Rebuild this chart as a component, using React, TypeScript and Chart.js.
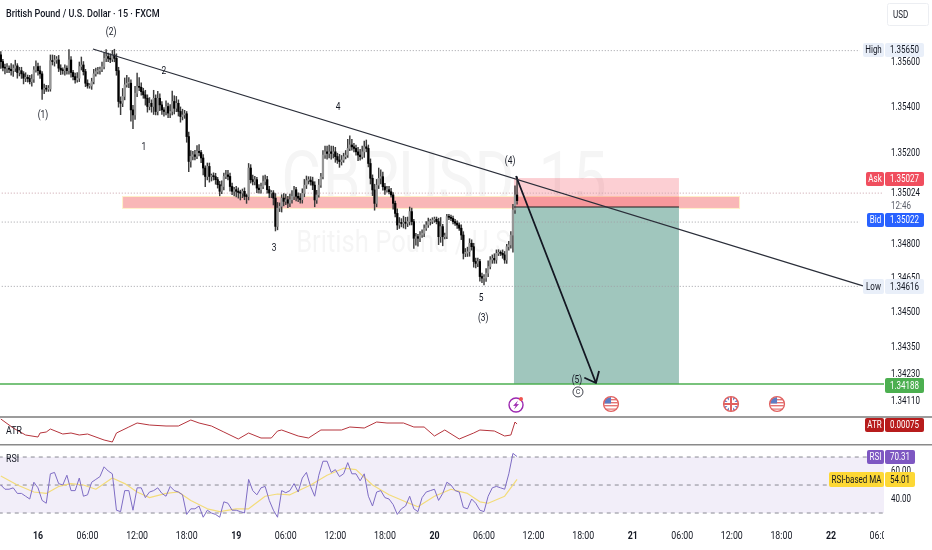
import React, { useEffect, useRef } from "react";
import { Chart, registerables } from "chart.js";

Chart.register(...registerables);

const closes = [
  1.35602, 1.35576, 1.35573, 1.35573, 1.35568, 1.35562, 1.35573, 1.35583, 1.35554, 1.35562,
  1.35548, 1.35529, 1.35533, 1.35527, 1.35514, 1.35525, 1.35565, 1.3558, 1.35562, 1.35548,
  1.35481, 1.35483, 1.35481, 1.35482, 1.35606, 1.35602, 1.35609, 1.35609, 1.35573, 1.35565,
  1.35562, 1.35573, 1.35562, 1.35609, 1.35554, 1.35536, 1.35522, 1.35529, 1.3558, 1.35587,
  1.35558, 1.35507, 1.35495, 1.35495, 1.35514, 1.35548, 1.35558, 1.35562, 1.35568, 1.3558,
  1.35616, 1.35624, 1.35616, 1.35612, 1.35631, 1.35616, 1.35562, 1.35427, 1.35419, 1.35449,
  1.355, 1.35507, 1.35507, 1.3539, 1.35368, 1.35463, 1.35492, 1.35489, 1.3547, 1.35456,
  1.35441, 1.35405, 1.35419, 1.35405, 1.35441, 1.35383, 1.35441, 1.35412, 1.3539, 1.35383,
  1.35405, 1.35376, 1.35383, 1.35427, 1.35397, 1.35419, 1.35383, 1.35361, 1.35368, 1.35373,
  1.35273, 1.35164, 1.35186, 1.35193, 1.35186, 1.35208, 1.35203, 1.35179, 1.35135, 1.35098,
  1.35142, 1.35098, 1.35099, 1.35097, 1.35084, 1.35062, 1.35033, 1.35054, 1.35098, 1.35105,
  1.35098, 1.35054, 1.35033, 1.3504, 1.35033, 1.35028, 1.35025, 1.35033, 1.35011, 1.3501,
  1.35135, 1.35084, 1.35076, 1.35084, 1.35047, 1.3504, 1.35054, 1.35076, 1.35084, 1.3504,
  1.35025, 1.35026, 1.35003, 1.34879, 1.34959, 1.34967, 1.35003, 1.34989, 1.34996, 1.34981,
  1.34996, 1.35011, 1.3504, 1.35011, 1.35003, 1.34996, 1.35024, 1.3506, 1.3508, 1.35082,
  1.35075, 1.3506, 1.34995, 1.35017, 1.3506, 1.35097, 1.35192, 1.35206, 1.35199, 1.35206,
  1.35199, 1.35206, 1.35185, 1.3517, 1.35163, 1.3517, 1.35185, 1.35192, 1.35221, 1.35236,
  1.35228, 1.35221, 1.35206, 1.35192, 1.35185, 1.35206, 1.35228, 1.35221, 1.35155, 1.3509,
  1.35039, 1.3498, 1.3506, 1.3509, 1.35097, 1.35053, 1.35039, 1.3504, 1.35031, 1.35017,
  1.3498, 1.34936, 1.34885, 1.34893, 1.34892, 1.34894, 1.34893, 1.349, 1.34944, 1.349,
  1.34827, 1.34834, 1.34827, 1.34841, 1.34849, 1.34871, 1.34885, 1.349, 1.34901, 1.34907,
  1.3491, 1.349, 1.34834, 1.34878, 1.34834, 1.34835, 1.34922, 1.34919, 1.34914, 1.349,
  1.34893, 1.34885, 1.34871, 1.34841, 1.34761, 1.34762, 1.34768, 1.34805, 1.3479, 1.34725,
  1.34717, 1.34725, 1.34659, 1.34652, 1.34653, 1.34674, 1.34703, 1.34732, 1.34739, 1.34732,
  1.34761, 1.34762, 1.34761, 1.34754, 1.34732, 1.3479, 1.34798, 1.34841, 1.34951, 1.35017,
  1.34992,
];
const firstOpen = 1.35631;

// wick lengths, in 0.00001 of a dollar, read bar by bar
const upperWick = [
  15, 10, 15, 20, 10, 25, 15, 25, 10, 15, 15, 10, 20, 10, 15, 20, 15, 25, 15, 20,
  10, 20, 15, 15, 25, 25, 20, 15, 20, 15, 10, 15, 10, 45, 15, 10, 15, 25, 20, 35,
  15, 10, 15, 10, 15, 20, 15, 15, 10, 20, 25, 30, 15, 20, 20, 25, 20, 15, 20, 35,
  30, 35, 25, 15, 20, 30, 60, 40, 20, 15, 20, 15, 25, 15, 35, 15, 30, 20, 15, 10,
  25, 15, 30, 45, 25, 30, 15, 20, 25, 15, 10, 20, 25, 15, 20, 25, 30, 10, 15, 10,
  15, 15, 10, 15, 15, 10, 15, 25, 15, 20, 20, 15, 15, 10, 15, 15, 10, 10, 15, 10,
  20, 15, 20, 15, 10, 15, 15, 25, 20, 15, 15, 10, 10, 20, 25, 15, 15, 20, 25, 15,
  25, 25, 15, 10, 15, 20, 20, 25, 20, 15, 15, 20, 15, 20, 25, 15, 20, 25, 25, 30,
  25, 25, 20, 15, 25, 20, 15, 20, 40, 40, 25, 15, 15, 20, 25, 25, 25, 30, 15, 20,
  15, 25, 25, 45, 30, 20, 15, 15, 15, 15, 10, 10, 20, 25, 20, 30, 25, 20, 20, 15,
  10, 15, 10, 15, 15, 15, 15, 15, 10, 10, 10, 10, 15, 40, 10, 15, 10, 10, 10, 10,
  10, 10, 10, 15, 15, 20, 20, 20, 15, 15, 15, 15, 10, 15, 15, 20, 25, 15, 15, 20,
  15, 15, 10, 15, 15, 10, 15, 15, 25, 40, 79,
];
const lowerWick = [
  30, 15, 25, 20, 15, 20, 25, 15, 25, 15, 20, 25, 15, 15, 10, 20, 15, 10, 20, 20,
  45, 20, 10, 10, 10, 15, 20, 15, 15, 20, 15, 20, 15, 15, 20, 15, 15, 10, 15, 15,
  15, 15, 10, 10, 15, 10, 10, 10, 15, 10, 10, 15, 15, 15, 10, 15, 20, 25, 50, 15,
  15, 10, 20, 50, 60, 20, 15, 15, 15, 15, 30, 25, 15, 25, 35, 15, 15, 25, 20, 20,
  15, 20, 20, 15, 25, 15, 20, 25, 15, 15, 25, 45, 25, 15, 15, 10, 15, 20, 30, 45,
  15, 25, 20, 15, 20, 15, 20, 10, 15, 10, 15, 20, 15, 20, 25, 25, 30, 20, 15, 30,
  15, 15, 15, 15, 20, 15, 15, 10, 15, 15, 20, 20, 30, 20, 15, 15, 25, 20, 15, 20,
  15, 15, 15, 20, 15, 15, 15, 15, 15, 15, 15, 20, 30, 15, 10, 10, 10, 15, 25, 20,
  25, 20, 25, 15, 25, 15, 10, 10, 10, 10, 15, 15, 15, 25, 15, 10, 25, 15, 15, 25,
  25, 30, 15, 15, 25, 15, 20, 10, 10, 10, 25, 15, 20, 15, 15, 20, 25, 15, 15, 15,
  45, 30, 35, 15, 10, 15, 10, 10, 15, 10, 10, 10, 35, 25, 40, 10, 10, 10, 10, 10,
  10, 15, 10, 20, 25, 15, 15, 20, 15, 25, 20, 15, 20, 20, 30, 15, 15, 10, 15, 15,
  15, 10, 10, 15, 15, 15, 15, 15, 75, 15, 15,
];

// RSI, one reading every second bar
const rsiValues = [
  50, 47, 47, 48, 44, 44, 42, 40, 52, 48,
  39, 37, 58, 59, 51, 50, 57, 46, 46, 55,
  42, 43, 52, 54, 56, 63, 60, 58, 32, 31,
  46, 46, 32, 48, 48, 41, 45, 46, 48, 44,
  42, 49, 46, 45, 43, 29, 33, 33, 35, 27,
  32, 30, 29, 27, 38, 37, 32, 32, 31, 30,
  54, 46, 43, 48, 49, 39, 32, 27,
  46, 44.5, 46, 51, 45, 55, 59, 49, 42, 57,
  67, 67, 59, 61, 56, 58, 66, 58, 58, 53,
  58, 42, 35, 45, 46, 41, 40, 36, 29, 33,
  35, 42, 33, 31, 41, 45, 46, 47, 39, 44,
  52, 50, 46, 45, 34, 33, 40, 37, 32, 31,
  42, 48, 49, 48, 47, 58, 72.6, 70.31,
];
const rsiMaBars = [0, 8, 16, 22, 28, 34, 40, 46, 54, 60, 66, 72, 80, 86, 92, 100, 106, 114, 120, 128, 134, 140, 150, 158, 166, 172, 180, 188, 196, 202, 210, 218, 226, 232, 236, 244, 250];
const rsiMaValues = [56.4, 50, 45, 44, 49, 51, 50, 47, 55, 51, 45, 41, 44, 45, 39, 33, 31, 33, 33, 42, 43.6, 43, 50, 57, 62, 61, 50, 43, 38, 34.5, 42, 47, 44, 38, 37, 42, 54.01];

const atrBars = [0, 6, 12, 18, 19, 22, 24, 30, 34, 38, 42, 50, 54, 56, 62, 66, 72, 80, 86, 92, 96, 102, 108, 115, 120, 126, 131, 134, 136, 144, 149, 155, 165, 169, 176, 182, 187, 195, 200, 205, 210, 215, 222, 229, 232, 239, 244, 247, 249, 250];
const atrValues = [0.0008, 0.00071, 0.00064, 0.00062, 0.00066, 0.00067, 0.0007, 0.00065, 0.00066, 0.00064, 0.00065, 0.00059, 0.00057, 0.00066, 0.00072, 0.00076, 0.00074, 0.00073, 0.00073, 0.00079, 0.00076, 0.00073, 0.00067, 0.0006, 0.00066, 0.00061, 0.00061, 0.00068, 0.00069, 0.00063, 0.00061, 0.00069, 0.00069, 0.00072, 0.00071, 0.00077, 0.00076, 0.00076, 0.00072, 0.00072, 0.00063, 0.00069, 0.0006, 0.00066, 0.00069, 0.00068, 0.00063, 0.00064, 0.00077, 0.00075];

const timeTickBars = [18, 42, 66, 90, 114, 138, 162, 186, 210, 234, 258, 282, 306, 330, 354, 378, 402, 426];
const timeTickLabels = ["16", "06:00", "12:00", "18:00", "19", "06:00", "12:00", "18:00", "20", "06:00", "12:00", "18:00", "21", "06:00", "12:00", "18:00", "22", "06:00"];
const dayLabels = ["16", "19", "20", "21", "22"];

const priceTicks = [1.356, 1.354, 1.352, 1.35024, 1.348, 1.3465, 1.345, 1.3435, 1.3423, 1.3411];
const rsiTicks = [60, 40];
const rsiLevels = [70, 50, 30];

const highLevel = 1.3565;
const lowLevel = 1.34616;
const askLevel = 1.35025;
const bidLevel = 1.34898;
const targetLevel = 1.34188;

const trendBars = [44.6, 417.5];
const trendPrices = [1.35657, 1.34618];
const arrowBars = [249.5, 288.2, 282.9, 288.2, 289.7];
const arrowPrices = [1.351, 1.34192, 1.34214, 1.34192, 1.34245];

const zoneBars = [59.2, 357.5];
const zonePrices = [1.35008, 1.3496];
const positionBars = [248.5, 328.4];
const stopPrice = 1.35091;
const entryPrice = 1.34964;
const takeProfitPrice = 1.34188;

const waveTexts = ["(2)", "(1)", "2", "1", "4", "3", "5", "(3)", "(4)", "(5)"];
const waveBars = [53.4, 20.4, 79, 69.3, 163.3, 132.3, 232.6, 233.6, 246.6, 279];
const wavePrices = [1.35732, 1.35368, 1.35561, 1.35227, 1.35403, 1.34784, 1.34565, 1.34477, 1.35166, 1.34205];
const circledBar = 279.5;
const circledPrice = 1.34153;

const usEventBars = [295.5, 375.9];
const ukEventBars = [353.6];
const flashEventBar = 249.5;

const FONT = "Roboto, sans-serif";
const TEXT_CONDENSE = 0.8;
const PLOT_RIGHT = 884;

function badge(ctx: CanvasRenderingContext2D, x: number, y: number, w: number, h: number, bg: string, fg: string, text: string, r = 2) {
  ctx.fillStyle = bg;
  ctx.beginPath();
  ctx.roundRect(x, y, w, h, r);
  ctx.fill();
  ctx.fillStyle = fg;
  ctx.textAlign = "center";
  ctx.textBaseline = "middle";
  ctx.font = `10px ${FONT}`;
  ctx.fillText(text, x + w / 2, y + h / 2 + 0.5);
}

function usFlag(ctx: CanvasRenderingContext2D, x: number, y: number) {
  ctx.save();
  ctx.beginPath();
  ctx.arc(x, y, 7, 0, Math.PI * 2);
  ctx.clip();
  ctx.fillStyle = "#ffffff";
  ctx.fillRect(x - 7, y - 7, 14, 14);
  ctx.fillStyle = "#e57373";
  ctx.fillRect(x - 7, y - 5, 14, 1.4);
  ctx.fillRect(x - 7, y - 2, 14, 1.4);
  ctx.fillRect(x - 7, y + 1, 14, 1.4);
  ctx.fillRect(x - 7, y + 4.5, 14, 1.2);
  ctx.fillStyle = "#5c7cc4";
  ctx.fillRect(x - 7, y - 7, 7, 6.5);
  ctx.restore();
  ctx.strokeStyle = "#e0605f";
  ctx.lineWidth = 1.4;
  ctx.beginPath();
  ctx.arc(x, y, 7.4, 0, Math.PI * 2);
  ctx.stroke();
}

function ukFlag(ctx: CanvasRenderingContext2D, x: number, y: number) {
  ctx.save();
  ctx.beginPath();
  ctx.arc(x, y, 7, 0, Math.PI * 2);
  ctx.clip();
  ctx.fillStyle = "#6f86c8";
  ctx.fillRect(x - 7, y - 7, 14, 14);
  ctx.strokeStyle = "#ffffff";
  ctx.lineWidth = 2;
  ctx.beginPath();
  ctx.moveTo(x - 7, y - 7);
  ctx.lineTo(x + 7, y + 7);
  ctx.moveTo(x + 7, y - 7);
  ctx.lineTo(x - 7, y + 7);
  ctx.stroke();
  ctx.strokeStyle = "#ffffff";
  ctx.lineWidth = 4;
  ctx.beginPath();
  ctx.moveTo(x, y - 7);
  ctx.lineTo(x, y + 7);
  ctx.moveTo(x - 7, y);
  ctx.lineTo(x + 7, y);
  ctx.stroke();
  ctx.strokeStyle = "#e0605f";
  ctx.lineWidth = 2;
  ctx.stroke();
  ctx.restore();
  ctx.strokeStyle = "#e0605f";
  ctx.lineWidth = 1.4;
  ctx.beginPath();
  ctx.arc(x, y, 7.4, 0, Math.PI * 2);
  ctx.stroke();
}

function flashIcon(ctx: CanvasRenderingContext2D, x: number, y: number) {
  ctx.strokeStyle = "#9c27b0";
  ctx.lineWidth = 1.4;
  ctx.beginPath();
  ctx.arc(x, y, 7, 0, Math.PI * 2);
  ctx.stroke();
  ctx.fillStyle = "#9c27b0";
  ctx.beginPath();
  ctx.moveTo(x + 2, y - 4.5);
  ctx.lineTo(x - 3, y + 1);
  ctx.lineTo(x - 0.3, y + 0.8);
  ctx.lineTo(x - 2, y + 4.5);
  ctx.lineTo(x + 3, y - 1);
  ctx.lineTo(x + 0.3, y - 0.8);
  ctx.closePath();
  ctx.fill();
  ctx.fillStyle = "#ef5350";
  ctx.beginPath();
  ctx.arc(x + 5, y - 6, 2, 0, Math.PI * 2);
  ctx.fill();
}

const underlay = {
  id: "underlay",
  beforeDraw(chart: any) {
    // The reference's lettering is horizontally condensed: squeeze every text run, the scales' too.
    const ctx = chart.ctx;
    if (!ctx.__condensed) {
      const original = ctx.fillText.bind(ctx);
      ctx.fillText = (t: string, x: number, y: number, m?: number) =>
        original(t, x, y, m ?? ctx.measureText(t).width * TEXT_CONDENSE);
      ctx.__condensed = true;
    }
  },
  beforeDatasetsDraw(chart: any) {
    const { ctx, scales } = chart;
    const x = scales.x;
    const y = scales.yMain;
    const r = scales.yRsi;
    ctx.save();
    // watermark
    ctx.fillStyle = "rgba(19,23,34,0.045)";
    ctx.textAlign = "center";
    ctx.textBaseline = "middle";
    ctx.font = `76px ${FONT}`;
    ctx.fillText("GBPUSD, 15", 444, 186);
    ctx.font = `32px ${FONT}`;
    ctx.fillText("British Pound / U.S. Dollar", 443, 244);

    // RSI band
    ctx.fillStyle = "rgba(126,87,194,0.1)";
    ctx.fillRect(0, r.getPixelForValue(70), PLOT_RIGHT, r.getPixelForValue(30) - r.getPixelForValue(70));

    // supply zone
    const zx0 = x.getPixelForValue(zoneBars[0]);
    const zx1 = x.getPixelForValue(zoneBars[1]);
    const zy0 = y.getPixelForValue(zonePrices[0]);
    const zy1 = y.getPixelForValue(zonePrices[1]);
    ctx.fillStyle = "#fff0c8";
    ctx.fillRect(zx0 - 1, zy0 - 1, zx1 - zx0 + 2, zy1 - zy0 + 2);
    ctx.fillStyle = "#f9b7b7";
    ctx.fillRect(zx0, zy0, zx1 - zx0, zy1 - zy0);

    // short position
    const px0 = x.getPixelForValue(positionBars[0]);
    const px1 = x.getPixelForValue(positionBars[1]);
    const stop = y.getPixelForValue(stopPrice);
    const entry = y.getPixelForValue(entryPrice);
    const take = y.getPixelForValue(takeProfitPrice);
    ctx.fillStyle = "rgba(242,54,69,0.24)";
    ctx.fillRect(px0, stop, px1 - px0, entry - stop);
    ctx.fillStyle = "#a0c6bd";
    ctx.fillRect(px0, entry, px1 - px0, take - entry);
    ctx.restore();
  },
  afterDraw(chart: any) {
    const { ctx, scales } = chart;
    const x = scales.x;
    const y = scales.yMain;
    ctx.save();

    // pane rules
    ctx.fillStyle = "#3a3a3a";
    ctx.fillRect(0, 416.5, 932, 1);
    ctx.fillStyle = "#8a8a8a";
    ctx.fillRect(0, 444, 932, 1.5);

    // clip the last time label at the price scale
    ctx.fillStyle = "#ffffff";
    ctx.fillRect(PLOT_RIGHT, 522, 48, 28);

    // title
    ctx.fillStyle = "#131722";
    ctx.textAlign = "left";
    ctx.textBaseline = "middle";
    ctx.font = `500 11.3px ${FONT}`;
    ctx.fillText("British Pound / U.S. Dollar · 15 · FXCM", 6, 14);

    // wave labels
    ctx.font = `10.5px ${FONT}`;
    ctx.textAlign = "center";
    ctx.fillStyle = "#131722";
    waveTexts.forEach((t, i) => {
      ctx.fillText(t, x.getPixelForValue(waveBars[i]), y.getPixelForValue(wavePrices[i]));
    });
    const cx = x.getPixelForValue(circledBar);
    const cy = y.getPixelForValue(circledPrice);
    ctx.strokeStyle = "#131722";
    ctx.lineWidth = 0.8;
    ctx.beginPath();
    ctx.arc(cx, cy, 5, 0, Math.PI * 2);
    ctx.stroke();
    ctx.font = `8px ${FONT}`;
    ctx.fillText("C", cx, cy + 0.5);

    // event markers
    usEventBars.forEach((b) => usFlag(ctx, x.getPixelForValue(b), 404));
    ukEventBars.forEach((b) => ukFlag(ctx, x.getPixelForValue(b), 404));
    flashIcon(ctx, x.getPixelForValue(flashEventBar), 405);

    // price scale badges
    badge(ctx, 863, 43, 21, 14, "#e9eff9", "#131722", "High");
    badge(ctx, 885, 43, 39, 14, "#e9eff9", "#131722", "1.35650");
    badge(ctx, 866, 172, 18, 14, "#f04e5e", "#ffffff", "Ask");
    badge(ctx, 885, 172, 39, 14, "#f04e5e", "#ffffff", "1.35027");
    ctx.fillStyle = "#5d606b";
    ctx.textAlign = "left";
    ctx.textBaseline = "middle";
    ctx.font = `10px ${FONT}`;
    ctx.fillText("12:46", 891, 206);
    badge(ctx, 867, 213, 17, 14, "#2962ff", "#ffffff", "Bid");
    badge(ctx, 885, 213, 39, 14, "#2962ff", "#ffffff", "1.35022");
    badge(ctx, 863, 279, 21, 15, "#e9eff9", "#131722", "Low");
    badge(ctx, 885, 279, 39, 15, "#e9eff9", "#131722", "1.34616");
    badge(ctx, 885, 378, 39, 15, "#4caf50", "#ffffff", "1.34188");
    badge(ctx, 865, 418, 19, 14, "#b71c1c", "#ffffff", "ATR");
    badge(ctx, 885, 418, 39, 14, "#b71c1c", "#ffffff", "0.00075");
    badge(ctx, 867, 450, 17, 14, "#7e57c2", "#ffffff", "RSI");
    badge(ctx, 885, 450, 30, 14, "#7e57c2", "#ffffff", "70.31");
    badge(ctx, 829, 472, 55, 15, "#fdd835", "#131722", "RSI-based MA");
    badge(ctx, 885, 472, 30, 15, "#fdd835", "#131722", "54.01");

    // currency box
    ctx.strokeStyle = "#eceef2";
    ctx.lineWidth = 1;
    ctx.beginPath();
    ctx.roundRect(887.5, 3.5, 41, 22, 2);
    ctx.stroke();
    ctx.fillStyle = "#131722";
    ctx.textAlign = "left";
    ctx.font = `10px ${FONT}`;
    ctx.fillText("USD", 893, 15);

    // pane captions
    ctx.font = `11px ${FONT}`;
    ctx.fillText("ATR", 6, 431);
    ctx.fillText("RSI", 6, 459);
    ctx.restore();
  },
};

const pts = (bars: number[], vals: number[]) => bars.map((b, i) => ({ x: b, y: vals[i] }));
const flat = (x0: number, x1: number, v: number) => [
  { x: x0, y: v },
  { x: x1, y: v },
];
const noPad = (s: any) => {
  s.paddingTop = 0;
  s.paddingBottom = 0;
  s.paddingLeft = 0;
  s.paddingRight = 0;
};

export default function App() {
  const ref = useRef<HTMLCanvasElement>(null);
  useEffect(() => {
    if (!ref.current) return;
    const opens = closes.map((_, i) => (i === 0 ? firstOpen : closes[i - 1]));
    const bodies = closes.map((c, i) => ({ x: i, y: [opens[i], c] }));
    const bodyColors = closes.map((c, i) => (c >= opens[i] ? "#969696" : "#000000"));
    const wicks = closes.map((c, i) => ({
      x: i,
      y: [Math.min(opens[i], c) - lowerWick[i] * 0.00001, Math.max(opens[i], c) + upperWick[i] * 0.00001],
    }));
    const lineBase = { type: "line", pointRadius: 0, borderJoinStyle: "round", tension: 0, fill: false };
    const dotted = { ...lineBase, yAxisID: "yMain", borderColor: "#a0a0a6", borderWidth: 1, borderDash: [1, 2] };
    const dashed = { ...lineBase, yAxisID: "yRsi", borderColor: "#8a8a94", borderWidth: 1, borderDash: [4, 4] };
    const chart = new Chart(ref.current, {
      type: "bar",
      data: {
        datasets: [
          { ...dotted, order: 5, data: flat(-1, 416, highLevel) },
          { ...dotted, order: 5, data: flat(-1, 427, askLevel), borderColor: "#c8a0a8" },
          { ...dotted, order: 5, data: flat(-1, 416, bidLevel) },
          { ...dotted, order: 5, data: flat(-1, 416, lowLevel) },
          { type: "bar", order: 4, yAxisID: "yMain", data: wicks, backgroundColor: "#3c3c3c", barThickness: 0.8, grouped: false },
          { type: "bar", order: 3, yAxisID: "yMain", data: bodies, backgroundColor: bodyColors, barThickness: 1.6, grouped: false, minBarLength: 1 },
          { ...lineBase, order: 2, yAxisID: "yMain", data: flat(-1, 428, targetLevel), borderColor: "#4caf50", borderWidth: 1.5 },
          { ...lineBase, order: 2, yAxisID: "yMain", data: flat(positionBars[0], positionBars[1], entryPrice), borderColor: "#1a1a1a", borderWidth: 1.2 },
          { ...lineBase, order: 1, yAxisID: "yMain", data: pts(trendBars, trendPrices), borderColor: "#2a2e39", borderWidth: 1.2 },
          { ...lineBase, order: 1, yAxisID: "yMain", data: pts(arrowBars, arrowPrices), borderColor: "#131722", borderWidth: 1.8 },
          { ...lineBase, order: 1, yAxisID: "yAtr", data: pts(atrBars, atrValues), borderColor: "#b5343c", borderWidth: 1 },
          { ...dashed, order: 3, data: flat(-1, 428, rsiLevels[0]) },
          { ...dashed, order: 3, data: flat(-1, 428, rsiLevels[1]) },
          { ...dashed, order: 3, data: flat(-1, 428, rsiLevels[2]) },
          { ...lineBase, order: 2, yAxisID: "yRsi", data: pts(rsiMaBars, rsiMaValues), borderColor: "#f3dc7a", borderWidth: 1.2 },
          { ...lineBase, order: 1, yAxisID: "yRsi", data: rsiValues.map((v, i) => ({ x: i * 2, y: v })), borderColor: "#7e6cc4", borderWidth: 1 },
        ] as any,
      },
      options: {
        responsive: false,
        animation: false,
        devicePixelRatio: 1,
        layout: { padding: 0 },
        plugins: { legend: { display: false }, tooltip: { enabled: false }, title: { display: false } },
        scales: {
          x: {
            type: "linear",
            position: "bottom",
            min: -0.4,
            max: 427.7,
            offset: false,
            grid: { display: false, drawTicks: false },
            border: { display: false },
            afterFit: (s: any) => {
              s.height = 29;
              noPad(s);
            },
            afterBuildTicks: (s: any) => {
              s.ticks = timeTickBars.map((v) => ({ value: v }));
            },
            ticks: {
              autoSkip: false,
              maxRotation: 0,
              minRotation: 0,
              padding: 9,
              color: "#131722",
              font: (c: any) => {
                const l = timeTickLabels[timeTickBars.indexOf(c.tick?.value)];
                return { family: FONT, size: 11, weight: dayLabels.includes(l) ? 700 : 400 };
              },
              callback: (v: any) => timeTickLabels[timeTickBars.indexOf(Number(v))],
            },
          },
          yMain: {
            type: "linear",
            position: "right",
            stack: "panes",
            stackWeight: 417,
            weight: 0,
            min: 1.34043,
            max: 1.35872,
            grid: { display: false, drawTicks: false },
            border: { display: false },
            afterFit: (s: any) => {
              s.width = 48;
              noPad(s);
            },
            afterBuildTicks: (s: any) => {
              s.ticks = priceTicks.map((v) => ({ value: v }));
            },
            ticks: {
              autoSkip: false,
              padding: 7,
              color: "#131722",
              font: { family: FONT, size: 10 },
              callback: (v: any) => Number(v).toFixed(5),
            },
          },
          yAtr: {
            type: "linear",
            position: "right",
            stack: "panes",
            stackWeight: 27,
            weight: 1,
            min: 0.00055,
            max: 0.00082,
            grid: { display: false, drawTicks: false },
            border: { display: false },
            afterFit: (s: any) => {
              s.width = 48;
              noPad(s);
            },
            ticks: { display: false },
          },
          yRsi: {
            type: "linear",
            position: "right",
            stack: "panes",
            stackWeight: 77,
            weight: 2,
            min: 24.3,
            max: 79.3,
            grid: { display: false, drawTicks: false },
            border: { display: false },
            afterFit: (s: any) => {
              s.width = 48;
              noPad(s);
            },
            afterBuildTicks: (s: any) => {
              s.ticks = rsiTicks.map((v) => ({ value: v }));
            },
            ticks: {
              autoSkip: false,
              padding: 7,
              color: "#131722",
              font: { family: FONT, size: 10 },
              callback: (v: any) => Number(v).toFixed(2),
            },
          },
        },
      } as any,
      plugins: [underlay] as any,
    });
    return () => chart.destroy();
  }, []);
  return (
    <div style={{ position: "absolute", left: 0, top: 0, width: 932, height: 550, background: "#ffffff" }}>
      <canvas ref={ref} width={932} height={550} style={{ display: "block" }} />
    </div>
  );
}
